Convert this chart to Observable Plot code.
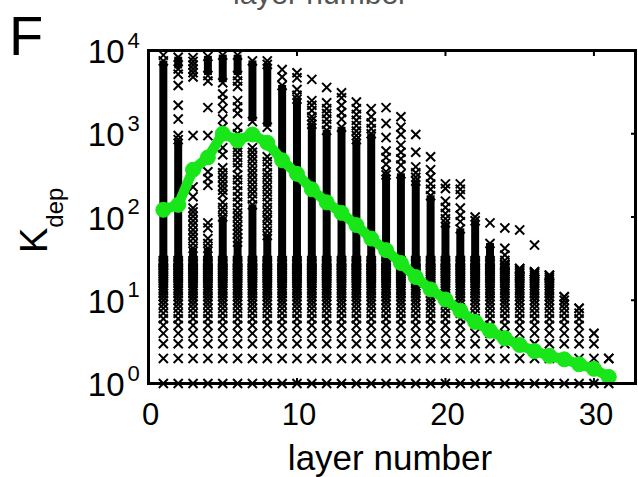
<!DOCTYPE html>
<html>
<head>
<meta charset="utf-8">
<script src="https://cdn.jsdelivr.net/npm/d3@7"></script>
<script src="https://cdn.jsdelivr.net/npm/@observablehq/plot@0.6"></script>
<style>
  html, body { margin: 0; padding: 0; background: #fff; }
  #chart { width: 638px; height: 477px; overflow: hidden; }
</style>
</head>
<body>
<div id="chart"></div>
<script>
// ---- data ----
const layers = [1,2,3,4,5,6,7,8,9,10,11,12,13,14,15,16,17,18,19,20,21,22,23,24,25,26,27,28,29,30,31];
// highest K_dep of the contiguous run of values starting at 1 in each layer
const denseTop = [7500, 850, 42, 42, 100, 50, 140, 60, 3800, 2600, 1300, 1100, 1200, 850, 1000,
                  320, 330, 270, 180, 85, 72, 90, 48, 27, 24, 22, 20, 11, 8, 4, 2];
// integer K_dep rows that are drawn as individual markers at the bottom of every column
const lowRows = [1,2,3,4,5,6,7,8,9,10,11,12,13,14,15,16,17,18,19,20,21,22,23,24,25,26,27,28,29,30];
// additional dense runs (upper clusters)
const extraLayer = [2, 4, 5, 6, 7, 8];
const extraLo    = [6000, 5000, 4100, 5000, 1400, 1200];
const extraHi    = [8300, 8500, 8800, 8800, 7500, 6800];
// isolated markers per layer (index 0 = layer 1)
const sparseByLayer = [
  [8800],
  [5200, 3800, 2200, 1500, 950],
  [8200, 7400, 6700, 6000, 5400, 4800, 950, 230, 175, 128, 115, 102, 90, 80, 70, 62, 55, 48],
  [4300, 2060, 950, 350, 290, 240, 85, 74, 55, 48],
  [3000, 2500, 2000, 1500, 1200, 680, 560, 390, 340, 300, 265, 235, 210, 186, 150, 130, 115],
  [4300, 3700, 2500, 2100, 1750, 1200, 1000, 870, 680, 600, 520, 450, 390, 320, 280, 240, 205, 175, 150, 128, 112, 100, 88, 78, 70, 63, 56],
  [680, 600, 530, 470, 410, 360, 320, 280, 245, 215, 190, 165],
  [7500, 530, 460, 400, 340, 300, 260, 230, 200, 175, 150, 130, 115, 100, 90, 78, 68],
  [5900, 4800],
  [5400, 4700, 3400, 2900],
  [4500, 2500, 2200, 1900, 1600, 1450],
  [3600, 2350, 2000, 1750, 1500, 1300],
  [3100, 2700, 2200, 1800, 1500],
  [2400, 2000, 1700, 1450, 1250, 1080, 950],
  [2000, 1600, 1350, 1150],
  [2060, 1330, 900, 620, 520, 430, 350],
  [1600, 1200, 980, 730, 600, 500, 420],
  [980, 600, 400, 340, 300],
  [530, 370, 300, 250, 215],
  [250, 220, 155, 130, 110, 95],
  [250, 215, 186, 128, 105, 88],
  [100],
  [85],
  [74, 42, 35, 30],
  [70],
  [46],
  [], [], [], [], []
];
// mean K_dep per layer (green curve)
const greenK = [122, 140, 370, 520, 1000, 830, 980, 780, 480, 330, 215, 150, 112, 80, 55,
                40, 28, 19, 13.5, 10.2, 7.5, 5.5, 4.3, 3.5, 2.9, 2.45, 2.15, 1.95, 1.7, 1.5, 1.2];
const xTicks = [0, 10, 20, 30];
const yTicks = [1, 10, 100, 1000, 10000];
const yExp = ["0", "1", "2", "3", "4"];

// ---- tables for the marks ----
const pts = [];
layers.forEach((L, i) => {
  lowRows.forEach(r => { if (r <= denseTop[i]) pts.push({L, k: r}); });
  pts.push({L, k: denseTop[i]});
  sparseByLayer[i].forEach(k => pts.push({L, k}));
});
extraLayer.forEach((L, i) => { pts.push({L, k: extraLo[i]}); pts.push({L, k: extraHi[i]}); });
const runStart = lowRows[lowRows.length - 11];
const runs = [];
layers.forEach((L, i) => { if (denseTop[i] > runStart) runs.push({L, lo: runStart, hi: denseTop[i]}); });
extraLayer.forEach((L, i) => runs.push({L, lo: extraLo[i], hi: extraHi[i]}));
const green = layers.map((L, i) => ({L, k: greenK[i]}));

const FONT = "'Liberation Sans', Arial, Helvetica, sans-serif";
const GREEN = "#19e619";

const chart = Plot.plot({
  width: 638,
  height: 477,
  marginLeft: 148,
  marginRight: 3,
  marginTop: 50,
  marginBottom: 94,
  x: {domain: [0, 32.8]},
  y: {type: "log", domain: [1, 10000]},
  style: {fontFamily: FONT, background: "white", color: "black", overflow: "visible"},
  marks: [
    Plot.ruleX(runs, {x: "L", y1: "lo", y2: "hi", stroke: "black", strokeWidth: 8}),
    Plot.dot(pts, {x: "L", y: "k", symbol: "times", r: 4.2, stroke: "black", strokeWidth: 2}),
    Plot.line(green, {x: "L", y: "k", stroke: GREEN, strokeWidth: 10, strokeLinejoin: "round"}),
    Plot.dot(green, {x: "L", y: "k", r: 7.5, fill: GREEN, stroke: GREEN, strokeWidth: 1}),
    Plot.frame({stroke: "black", strokeWidth: 3}),
    Plot.axisX({ticks: xTicks, tickSize: 0, tickPadding: 19, fontSize: 31, dx: 2, label: null, tickFormat: d => String(d)}),
    Plot.axisX({ticks: xTicks, anchor: "bottom", tickSize: -5, strokeWidth: 2, label: null, tickFormat: () => ""}),
    Plot.axisX({ticks: xTicks, anchor: "top", tickSize: -5, strokeWidth: 2, label: null, tickFormat: () => ""}),
    Plot.axisY({ticks: yTicks, anchor: "right", tickSize: -5, strokeWidth: 2, label: null, tickFormat: () => ""}),
    Plot.text(yTicks, {y: d => d, frameAnchor: "left", text: () => "10", textAnchor: "end", dx: -24, dy: 2, fontSize: 33, fill: "black"}),
    Plot.text(yTicks, {y: d => d, frameAnchor: "left", text: (d, i) => yExp[i], textAnchor: "start", dx: -21, dy: -10, fontSize: 22, fill: "black"})
  ]
});

const svg = d3.select(chart);
svg.append("text")
  .attr("x", 9).attr("y", 55).attr("text-anchor", "start")
  .attr("font-family", FONT).attr("font-size", 56).attr("fill", "black")
  .text("F");
svg.append("text")
  .attr("x", 233).attr("y", 4).attr("text-anchor", "start")
  .attr("font-family", FONT).attr("font-size", 30).attr("fill", "#555")
  .text("layer number");
const yl = svg.append("text")
  .attr("transform", "translate(47,253) rotate(-90)").attr("text-anchor", "start")
  .attr("font-family", FONT).attr("font-size", 38).attr("fill", "black");
yl.append("tspan").text("K");
yl.append("tspan").attr("font-size", 24).attr("dy", 16).text("dep");
svg.append("text")
  .attr("x", 390).attr("y", 470)
  .attr("text-anchor", "middle")
  .attr("font-family", FONT).attr("font-size", 35).attr("fill", "black")
  .text("layer number");

document.getElementById("chart").appendChild(chart);
</script>
</body>
</html>
